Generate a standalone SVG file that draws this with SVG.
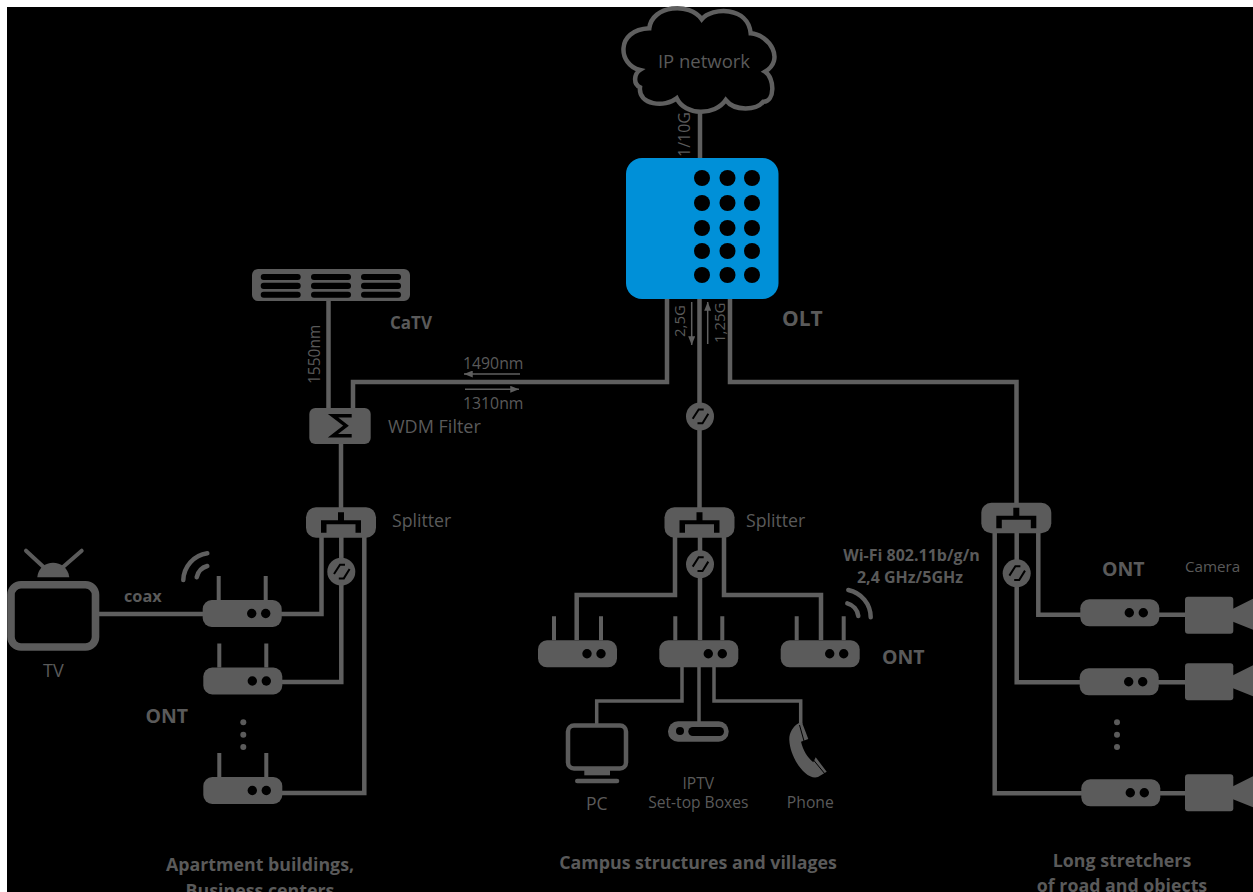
<svg xmlns="http://www.w3.org/2000/svg" xmlns:xlink="http://www.w3.org/1999/xlink" width="1253" height="892" viewBox="0 0 1253 892">
<style>
text{font-family:"Open Sans","Noto Sans","Liberation Sans",sans-serif;fill:#5a5a5a;font-size:16px}
.b{font-weight:700}
.m{text-anchor:middle}
.w{fill:none;stroke:#5f5f5f;stroke-width:4.500;stroke-linejoin:miter}
.t{fill:none;stroke:#5f5f5f;stroke-width:1.500}
.g{fill:#5b5b5b}
.k{fill:#000}
.ko{fill:none;stroke:#000;stroke-width:2}
.a{fill:none;stroke:#5f5f5f;stroke-width:4.500;stroke-linecap:round}
.an{stroke:#5f5f5f;stroke-width:4;fill:none}
</style>
<defs>
<marker id="ah" viewBox="0 0 10 8" refX="10" refY="4" markerWidth="9" markerHeight="7" markerUnits="userSpaceOnUse" orient="auto"><path d="M0,0L10,4L0,8Z" fill="#5f5f5f"/></marker>
<g id="ont"><rect width="79" height="27" rx="9" class="g"/><circle cx="49" cy="13.500" r="4.700" class="k"/><circle cx="63" cy="13.500" r="4.700" class="k"/></g>
<g id="ontA"><use xlink:href="#ont" href="#ont"/><path class="an" d="M16,0V-24M63,0V-24"/></g>
<g id="conv"><circle r="14" class="g"/><path class="ko" d="M-7.300,2.300L-1.300,-7H3.700M8.300,-2.700L2.500,6.700H-2.500"/></g>
<g id="spl"><rect x="-35" y="0" width="70" height="30.500" rx="10" class="g"/><path class="k" d="M-20,13H-3V5H3V13H20V25.500H14.500V17H-14.500V25.500H-20Z"/></g>
<g id="cam"><rect width="48.300" height="37" rx="3" class="g"/><path class="g" d="M48,12L68,2V33L48,25Z"/></g>
</defs>
<rect width="1253" height="892" fill="#fff"/>
<rect x="7" y="7" width="1246" height="885" fill="#000"/>

<g id="connectors">
<path class="w" d="M700,113V158"/>
<path class="w" d="M667,299V382H353V408"/>
<path class="w" d="M699.500,299V508"/>
<path class="w" d="M730,299V382H1016.500V503"/>
<path class="w" d="M328.500,301V408"/>
<path class="w" d="M341,444V508"/>
<path class="w" d="M321.500,537V614H281"/>
<path class="w" d="M341.300,537V682H282"/>
<path class="w" d="M364.300,537V793H282"/>
<path class="w" d="M99,614H203"/>
<path class="w" d="M675,537V595H576.700V640"/>
<path class="w" d="M700,537V640"/>
<path class="w" d="M724,537V595H821V640"/>
<path class="w" style="stroke-width:3.500" d="M682,667V701H596.700V724"/>
<path class="w" style="stroke-width:3.500" d="M699,667V722"/>
<path class="w" style="stroke-width:3.500" d="M714,667V701H800.700V724"/>
<path class="w" d="M1038.300,533V614.700H1081"/>
<path class="w" d="M1016.700,533V682.300H1080"/>
<path class="w" d="M994.700,533V793.300H1082"/>
<path class="w" d="M1159,614.700H1186M1158,682.300H1186M1160,793.300H1186"/>
<path class="t" marker-end="url(#ah)" d="M691.700,302V345"/>
<path class="t" marker-end="url(#ah)" d="M707.700,344V302"/>
<path class="t" marker-end="url(#ah)" d="M520,374H464"/>
<path class="t" marker-end="url(#ah)" d="M465,389.300H519"/>
</g>

<g id="cloud"><path fill="none" stroke="#5f5f5f" stroke-width="4.500" d="M701.700,19.300C712,7 748,6 750.700,33.300C770,35 785,60 765,71.700C775,78 775,102 763.300,101.700C757,110 735,112 725.700,100C715,116 685,116 676.700,98.300C665,108 638,105 640,87.300C633,84 634,74 640,70C618,65 615,30 649.300,28.300C652,5 690,2 701.700,19.300Z"/><text x="704" y="67.500" class="m" style="font-size:18.500px">IP network</text></g>
<text transform="translate(690,157) rotate(-90)" style="font-size:16px">1/10G</text>

<g id="olt">
<rect x="626" y="158" width="152.500" height="141" rx="16" fill="#0090d8"/>
<g class="k">
<circle cx="702" cy="178" r="8"/><circle cx="727.500" cy="178" r="8"/><circle cx="752" cy="178" r="8"/>
<circle cx="702" cy="203" r="8"/><circle cx="727.500" cy="203" r="8"/><circle cx="752" cy="203" r="8"/>
<circle cx="702" cy="228" r="8"/><circle cx="727.500" cy="228" r="8"/><circle cx="752" cy="228" r="8"/>
<circle cx="702" cy="251" r="8"/><circle cx="727.500" cy="251" r="8"/><circle cx="752" cy="251" r="8"/>
<circle cx="702" cy="275" r="8"/><circle cx="727.500" cy="275" r="8"/><circle cx="752" cy="275" r="8"/>
</g>
<text x="782" y="325.500" class="b" style="font-size:21px">OLT</text>
</g>
<text transform="translate(685,337) rotate(-90)" style="font-size:15px">2,5G</text>
<text transform="translate(725,343) rotate(-90)" style="font-size:15px">1,25G</text>

<g id="catv">
<rect x="252" y="269" width="158" height="32" rx="6" class="g"/>
<g class="k">
<rect x="260.700" y="274" width="40" height="6" rx="3"/><rect x="311" y="274" width="40" height="6" rx="3"/><rect x="361" y="274" width="40" height="6" rx="3"/>
<rect x="260.700" y="282.700" width="40" height="6.300" rx="3"/><rect x="311" y="282.700" width="40" height="6.300" rx="3"/><rect x="361" y="282.700" width="40" height="6.300" rx="3"/>
<rect x="260.700" y="291.700" width="40" height="6" rx="3"/><rect x="311" y="291.700" width="40" height="6" rx="3"/><rect x="361" y="291.700" width="40" height="6" rx="3"/>
</g>
<text x="390" y="329" class="b" style="font-size:17px">CaTV</text>
</g>
<text transform="translate(320,384) rotate(-90)" style="font-size:15.500px">1550nm</text>
<text x="463" y="369" style="font-size:15.800px">1490nm</text>
<text x="463" y="408.500" style="font-size:15.800px">1310nm</text>

<g id="wdm">
<rect x="309.300" y="408" width="61.400" height="36" rx="6" class="g"/>
<path fill="none" stroke="#000" stroke-width="3.500" d="M351.700,415.700H333L346,425.700L333,435.700H351.700"/>
<text x="388" y="433" style="font-size:18px">WDM Filter</text>
</g>

<g id="splitter-left"><use xlink:href="#spl" href="#spl" x="341" y="507.300"/><text x="392" y="527" style="font-size:17.700px">Splitter</text></g>
<g id="splitter-mid"><use xlink:href="#spl" href="#spl" x="699.500" y="507.300"/><text x="746" y="526.700" style="font-size:17.700px">Splitter</text></g>
<g id="splitter-right"><use xlink:href="#spl" href="#spl" x="1016.300" y="502.800"/></g>

<g id="conv-left"><use xlink:href="#conv" href="#conv" x="341.300" y="571.700"/></g>
<g id="conv-top"><use xlink:href="#conv" href="#conv" x="700" y="416.500"/></g>
<g id="conv-mid"><use xlink:href="#conv" href="#conv" x="700" y="564.300"/></g>
<g id="conv-right"><use xlink:href="#conv" href="#conv" x="1016.700" y="573.300"/></g>

<g id="tv">
<rect x="11" y="584.800" width="84.500" height="62.200" rx="10" fill="none" stroke="#5b5b5b" stroke-width="7.600"/>
<path class="g" d="M37.300,577.300C39,558 67,558 69.300,577.300Z"/>
<path stroke="#5b5b5b" stroke-width="4" stroke-linecap="round" d="M26,550.700L43.300,566.700M81.700,550.700L63.300,566.700"/>
<text x="53.300" y="676.500" class="m" style="font-size:18px">TV</text>
</g>
<text x="124" y="601.500" class="b" style="font-size:16.300px">coax</text>

<g id="wifi-left"><path class="a" d="M207.300,553.300A28,28 0 0 0 183.300,580M207.300,566A15,15 0 0 0 196.700,577.300"/></g>
<g id="ont-l1"><use xlink:href="#ontA" href="#ontA" x="202.700" y="600"/></g>
<g id="ont-l2"><use xlink:href="#ontA" href="#ontA" x="203.300" y="667.500"/></g>
<g id="ont-l3"><use xlink:href="#ontA" href="#ontA" x="203.300" y="777"/></g>
<text x="145.500" y="722.500" class="b" style="font-size:19.500px">ONT</text>
<g id="dots-left" class="g"><circle cx="243.300" cy="722.300" r="3"/><circle cx="243.300" cy="734.700" r="3"/><circle cx="243.300" cy="747" r="3"/></g>

<g id="ont-m1"><use xlink:href="#ontA" href="#ontA" x="538" y="640.300"/></g>
<g id="ont-m2"><use xlink:href="#ontA" href="#ontA" x="659.300" y="640.300"/></g>
<g id="ont-m3"><use xlink:href="#ontA" href="#ontA" x="780.700" y="640.300"/></g>
<text x="882" y="663.500" class="b" style="font-size:19.500px">ONT</text>
<g id="wifi-right"><path class="a" d="M848.300,590A28,28 0 0 1 870.700,617.300M847.300,603.300A15,15 0 0 1 858.300,616"/></g>
<text x="911.500" y="560.500" class="b m" style="font-size:16px">Wi-Fi 802.11b/g/n</text>
<text x="910" y="583" class="b m" style="font-size:16px">2,4 GHz/5GHz</text>

<g id="pc">
<rect x="568" y="725.500" width="58" height="43" rx="6" fill="none" stroke="#5b5b5b" stroke-width="4.500"/>
<rect x="584.300" y="770" width="25.700" height="5.300" class="g"/>
<rect x="575" y="778.700" width="44.300" height="4.600" rx="2.300" class="g"/>
<text x="596.700" y="809.500" class="m" style="font-size:17.500px">PC</text>
</g>
<g id="stb">
<rect x="668" y="721.300" width="60.700" height="20.400" rx="10" class="g"/>
<circle cx="680" cy="731" r="4" class="k"/>
<rect x="688.300" y="727" width="35.700" height="9" rx="4.500" class="k"/>
<text x="698.300" y="789.300" class="m" style="font-size:15.600px">IPTV</text>
<text x="698.300" y="808.300" class="m" style="font-size:15.600px">Set-top Boxes</text>
</g>
<g id="phone">
<path class="g" d="M799,723L802,722.500L808.300,739L801,741.700C803,750 807,757 813.300,762.300L815.700,757.300L826.700,771.700L818,777C806,781 790,758 789.300,740C789,733 793,726 799,723Z"/>
<path stroke="#000" stroke-width="1" d="M799.500,725L804,741M813.500,760L825,774"/>
<text x="810.300" y="808.300" class="m" style="font-size:15.700px">Phone</text>
</g>

<g id="ont-r1"><use xlink:href="#ont" href="#ont" x="1080.300" y="599.300"/></g>
<g id="ont-r2"><use xlink:href="#ont" href="#ont" x="1079.700" y="668.300"/></g>
<g id="ont-r3"><use xlink:href="#ont" href="#ont" x="1081.300" y="779.300"/></g>
<text x="1102" y="576" class="b" style="font-size:19.500px">ONT</text>
<g id="cam-1"><use xlink:href="#cam" href="#cam" x="1185" y="596.700"/></g>
<g id="cam-2"><use xlink:href="#cam" href="#cam" x="1185" y="663.300"/></g>
<g id="cam-3"><use xlink:href="#cam" href="#cam" x="1185" y="774.300"/></g>
<text x="1185" y="571.500" style="font-size:15.200px">Camera</text>
<g id="dots-right" class="g"><circle cx="1117" cy="722.300" r="3"/><circle cx="1117" cy="734.700" r="3"/><circle cx="1117" cy="747" r="3"/></g>

<text x="260" y="870.500" class="b m" style="font-size:17.800px">Apartment buildings,</text>
<text x="260" y="896.500" class="b m" style="font-size:17.800px">Business centers</text>
<text x="698" y="869" class="b m" style="font-size:17.800px">Campus structures and villages</text>
<text x="1122" y="866.500" class="b m" style="font-size:17.800px">Long stretchers</text>
<text x="1122" y="891.500" class="b m" style="font-size:17.800px">of road and objects</text>
</svg>
